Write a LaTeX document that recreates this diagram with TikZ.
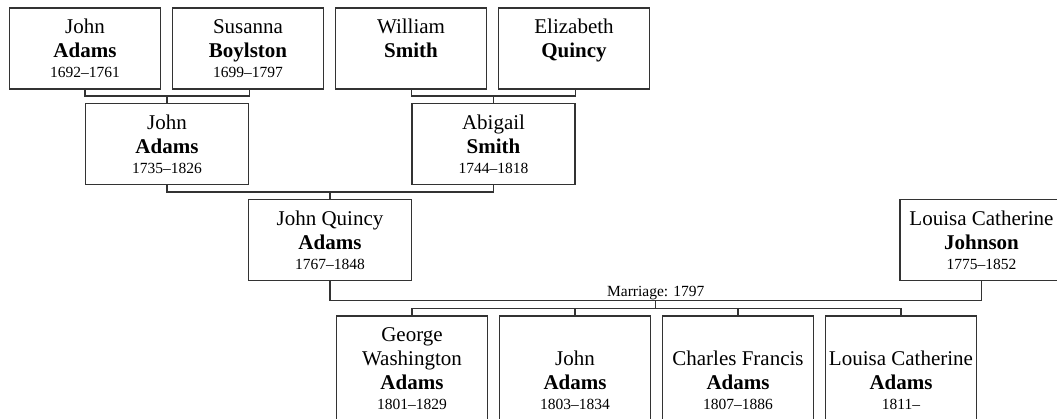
\documentclass[tikz,border=0pt]{standalone}
\usepackage{fontspec}
\setmainfont{Liberation Serif}
\usetikzlibrary{positioning, calc}
\newcommand{\yrs}{\fontsize{15.5}{20}\selectfont}

\begin{document}
\begin{tikzpicture}[x=1pt, y=1pt, on grid,
    person/.style={draw=black!80, line width=1.3pt, align=center, inner sep=1pt,
        minimum width=151pt, minimum height=81pt, font=\fontsize{21}{24}\selectfont},
    wide/.style={person, minimum width=163pt},
    child/.style={person, minimum height=105pt},
    link/.style={draw=black!80, line width=1.3pt}]
    % page frame, boxes at the right and bottom run off it
    \useasboundingbox (0,0) rectangle (1057,-418);
    \clip (0,0) rectangle (1057,-418);

    % grandparents
    \node[person] (ja1) at (85,-48.5) {John\\\textbf{Adams}\\[-4pt]{\yrs 1692--1761}};
    \node[person] (sb) [right=163pt of ja1] {Susanna\\\textbf{Boylston}\\[-4pt]{\yrs 1699--1797}};
    \node[person] (ws) [right=163pt of sb] {William\\\textbf{Smith}\\[-4pt]{\yrs\vphantom{1}}};
    \node[person] (eq) [right=163pt of ws] {Elizabeth\\\textbf{Quincy}\\[-4pt]{\yrs\vphantom{1}}};

    % parents
    \node[wide] (ja2) [below right=95.5pt and 82pt of ja1] {John\\\textbf{Adams}\\[-4pt]{\yrs 1735--1826}};
    \node[wide] (as) [right=326.5pt of ja2] {Abigail\\\textbf{Smith}\\[-4pt]{\yrs 1744--1818}};

    % the couple
    \node[wide] (jqa) [below right=96pt and 163pt of ja2] {John Quincy\\\textbf{Adams}\\[-4pt]{\yrs 1767--1848}};
    \node[wide] (lcj) [right=651.5pt of jqa] {Louisa Catherine\\\textbf{Johnson}\\[-4pt]{\yrs 1775--1852}};

    % children
    \node[child] (gwa) [below right=128.5pt and 82pt of jqa] {George\\Washington\\\textbf{Adams}\\[-4pt]{\yrs 1801--1829}};
    \node[child] (jad) [right=163pt of gwa] {\vphantom{J}\\John\\\textbf{Adams}\\[-4pt]{\yrs 1803--1834}};
    \node[child] (cfa) [right=163pt of jad] {\vphantom{J}\\Charles Francis\\\textbf{Adams}\\[-4pt]{\yrs 1807--1886}};
    \node[child] (lca) [right=163pt of cfa] {\vphantom{J}\\Louisa Catherine\\\textbf{Adams}\\[-4pt]{\yrs 1811--}};

    % family lines
    \coordinate (m1) at ([yshift=7pt]ja2.north);
    \draw[link] (ja1.south -| ja2.west) |- (m1) -| (sb.south -| ja2.east);
    \draw[link] (m1) -- (ja2.north);
    \coordinate (m2) at ([yshift=7pt]as.north);
    \draw[link] (ws.south -| as.west) |- (m2) -| (eq.south -| as.east);
    \draw[link] (m2) -- (as.north);
    \coordinate (m3) at ([yshift=7pt]jqa.north);
    \draw[link] (ja2.south) |- (m3) -| (as.south);
    \draw[link] (m3) -- (jqa.north);

    % marriage and children
    \coordinate (wed) at ($(jqa.south)!.5!(lcj.south)+(0,-19)$);
    \draw[link] (jqa.south) |- (wed) -| (lcj.south);
    \node[anchor=base, inner sep=0pt, font=\yrs] (mlabel) at ([yshift=3.5pt]wed) {Marriage: 1797};
    \coordinate (kids) at ([yshift=-8pt]wed);
    \draw[link] (wed) -- (kids);
    \draw[link] (gwa.north |- kids) -- (lca.north |- kids);
    \foreach \kid in {gwa, jad, cfa, lca}
        \draw[link] (kids -| \kid.north) -- (\kid.north);
\end{tikzpicture}
\end{document}
